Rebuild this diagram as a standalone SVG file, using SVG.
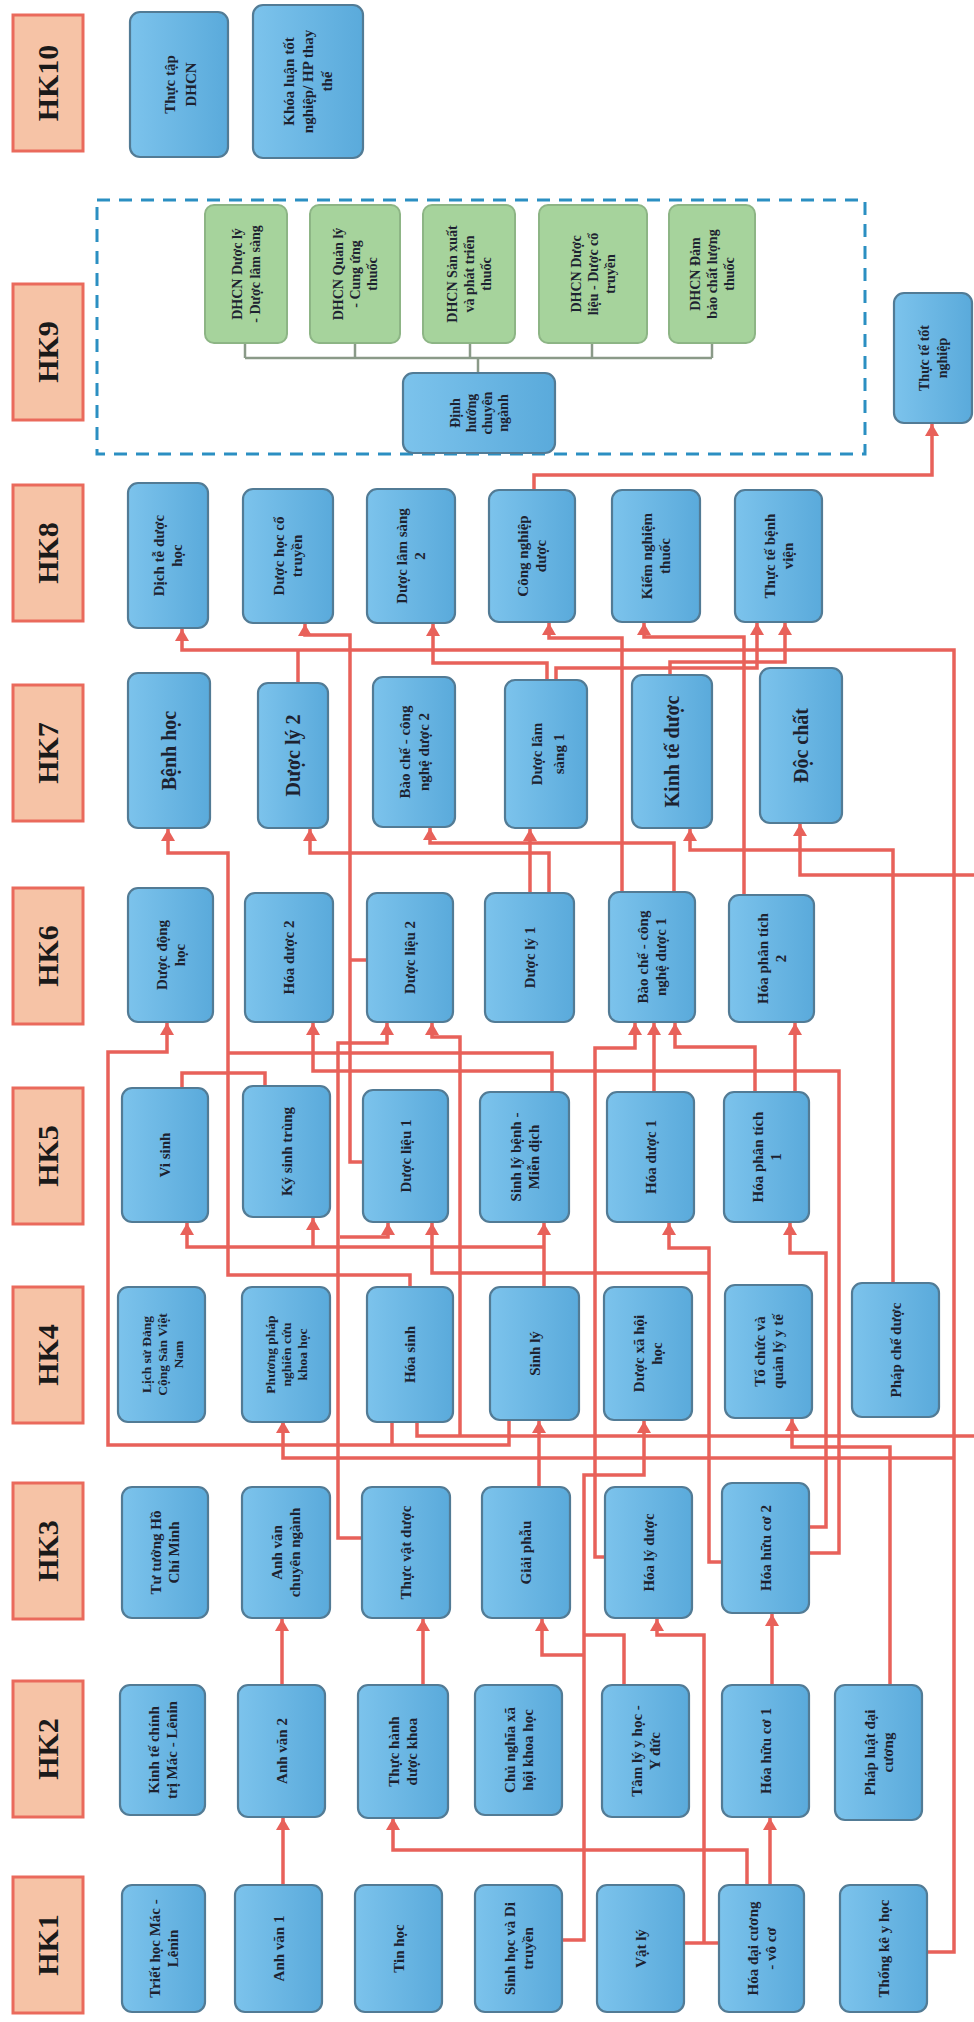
<svg xmlns="http://www.w3.org/2000/svg" width="974" height="2022" viewBox="0 0 974 2022">
<defs>
<linearGradient id="bl" x1="0" y1="0" x2="1" y2="0"><stop offset="0" stop-color="#7cc3ec"/><stop offset="1" stop-color="#5aaadb"/></linearGradient>
<marker id="ar" markerUnits="userSpaceOnUse" markerWidth="14" markerHeight="14" refX="12" refY="7" orient="auto"><path d="M0,0 L12,7 L0,14 z" fill="#e8615a"/></marker>
<style>
.n{fill:url(#bl);stroke:#527b95;stroke-width:2.2}
.gr{fill:#a6d39c;stroke:#8db585;stroke-width:2}
.hk{fill:#f6c3a6;stroke:#ea6a5c;stroke-width:3}
.hkt{font-family:"Liberation Serif",serif;font-weight:bold;font-size:30px;fill:#1a1a1a;text-anchor:middle}
.t{font-family:"Liberation Serif",serif;font-weight:bold;font-size:15px;fill:#1d2230;text-anchor:middle}
.s{font-size:14px}
.m{font-size:13.5px}
.b{font-size:20px}
.c path{fill:none;stroke:#e8615a;stroke-width:3.5}
.c path.a{marker-end:url(#ar)}
.tree path{fill:none;stroke:#8a9a88;stroke-width:2.5}
</style>
</defs>
<rect width="974" height="2022" fill="#ffffff"/>

<g id="semesters">
<g id="hk10"><rect class="hk" x="13" y="15" width="70" height="136"/><text class="hkt" transform="translate(48 83) rotate(-90)" y="10">HK10</text></g>
<g id="hk9"><rect class="hk" x="13" y="284" width="70" height="136"/><text class="hkt" transform="translate(48 352) rotate(-90)" y="10">HK9</text></g>
<g id="hk8"><rect class="hk" x="13" y="485" width="70" height="136"/><text class="hkt" transform="translate(48 553) rotate(-90)" y="10">HK8</text></g>
<g id="hk7"><rect class="hk" x="13" y="685" width="70" height="136"/><text class="hkt" transform="translate(48 753) rotate(-90)" y="10">HK7</text></g>
<g id="hk6"><rect class="hk" x="13" y="888" width="70" height="136"/><text class="hkt" transform="translate(48 956) rotate(-90)" y="10">HK6</text></g>
<g id="hk5"><rect class="hk" x="13" y="1088" width="70" height="136"/><text class="hkt" transform="translate(48 1156) rotate(-90)" y="10">HK5</text></g>
<g id="hk4"><rect class="hk" x="13" y="1287" width="70" height="136"/><text class="hkt" transform="translate(48 1355) rotate(-90)" y="10">HK4</text></g>
<g id="hk3"><rect class="hk" x="13" y="1483" width="70" height="136"/><text class="hkt" transform="translate(48 1551) rotate(-90)" y="10">HK3</text></g>
<g id="hk2"><rect class="hk" x="13" y="1681" width="70" height="136"/><text class="hkt" transform="translate(48 1749) rotate(-90)" y="10">HK2</text></g>
<g id="hk1"><rect class="hk" x="13" y="1877" width="70" height="136"/><text class="hkt" transform="translate(48 1945) rotate(-90)" y="10">HK1</text></g>
</g>

<rect id="hk9-box" x="97" y="200" width="768" height="254" fill="none" stroke="#2b8fc2" stroke-width="3" stroke-dasharray="13 9"/>

<g class="tree" id="tree">
<path d="M245,343 V358 M355,343 V358 M470,343 V358 M592,343 V358 M712,343 V358 M245,358 H712 M478,358 V373"/>
</g>

<g class="c" id="connectors">
<path class="a" d="M283,1885 V1818"/>
<path class="a" d="M770,1885 V1818"/>
<path class="a" d="M747,1885 V1850 H393 V1818"/>
<path class="a" d="M562,1940 H584 V1475 H644 V1421"/>
<path class="a" d="M584,1655 H542 V1619"/>
<path d="M624,1685 V1635 H584"/>
<path d="M684,1943 H719"/>
<path class="a" d="M704,1943 V1635 H657 V1619"/>
<path class="a" d="M927,1952 H954 V650 H182 V629"/>
<path class="a" d="M772,1685 V1614"/>
<path class="a" d="M282,1685 V1619"/>
<path class="a" d="M423,1685 V1619"/>
<path class="a" d="M539,1487 V1421"/>
<path class="a" d="M722,1562 H709 V1248 H669 V1223"/>
<path class="a" d="M709,1273 H432 V1223"/>
<path class="a" d="M809,1527 H826 V1253 H790 V1223"/>
<path class="a" d="M809,1553 H839 V1071 H313 V1023"/>
<path class="a" d="M605,1557 H595 V1048 H635 V1023"/>
<path class="a" d="M654,1092 V1023"/>
<path class="a" d="M755,1092 V1047 H675 V1023"/>
<path class="a" d="M795,1092 V1023"/>
<path class="a" d="M544,1287 V1223"/>
<path class="a" d="M544,1247 H187 V1223"/>
<path class="a" d="M313,1247 V1218"/>
<path class="a" d="M362,1538 H338 V1043 H387 V1023"/>
<path class="a" d="M340,1237 H388 V1223"/>
<path class="a" d="M363,1162 H350 V635 H305 V624"/>
<path d="M367,960 H350"/>
<path class="a" d="M460,1436 V1037 H432 V1023"/>
<path class="a" d="M509,1420 V1445 H108 V1052 H167 V1023"/>
<path d="M392,1422 V1445"/>
<path d="M417,1422 V1436 H974"/>
<path class="a" d="M954,1458 H283 V1421"/>
<path class="a" d="M890,1685 V1447 H792 V1419"/>
<path class="a" d="M893,1283 V850 H690 V829"/>
<path class="a" d="M410,1287 V1275 H228 V853 H168 V829"/>
<path d="M552,1092 V1053 H228"/>
<path d="M182,1088 V1073 H265 V1086"/>
<path class="a" d="M530,893 V829"/>
<path class="a" d="M549,893 V853 H310 V829"/>
<path class="a" d="M674,892 V843 H430 V828"/>
<path d="M298,683 V650"/>
<path class="a" d="M974,875 H800 V824"/>
<path class="a" d="M534,490 V475 H932 V424"/>
<path class="a" d="M744,895 V637 H644 V623"/>
<path class="a" d="M670,675 V662 H785 V623"/>
<path class="a" d="M556,680 V668 H757 V623"/>
<path class="a" d="M622,892 V638 H549 V623"/>
<path class="a" d="M547,680 V663 H433 V624"/>
</g>

<g id="n-thuc-tap"><rect class="n" x="130" y="12" width="98" height="145" rx="10"/><g transform="translate(179 84.5) rotate(-90)"><text class="t" font-size="18"><tspan x="0" y="-4">Thực tập</tspan><tspan x="0" y="17">DHCN</tspan></text></g></g>
<g id="n-khoa-luan"><rect class="n" x="253" y="5" width="110" height="153" rx="10"/><g transform="translate(308 81.5) rotate(-90)"><text class="t" font-size="16"><tspan x="0" y="-14">Khóa luận tốt</tspan><tspan x="0" y="5">nghiệp/ HP thay</tspan><tspan x="0" y="24">thế</tspan></text></g></g>

<g id="n-dhcn-dlls"><rect class="gr" x="205" y="205" width="82" height="138" rx="9"/><g transform="translate(246 274) rotate(-90)"><text class="t s"><tspan x="0" y="-4">DHCN Dược lý</tspan><tspan x="0" y="14">- Dược lâm sàng</tspan></text></g></g>
<g id="n-dhcn-qlcu"><rect class="gr" x="310" y="205" width="90" height="138" rx="9"/><g transform="translate(355 274) rotate(-90)"><text class="t s"><tspan x="0" y="-12">DHCN Quản lý</tspan><tspan x="0" y="5">- Cung ứng</tspan><tspan x="0" y="22">thuốc</tspan></text></g></g>
<g id="n-dhcn-sx"><rect class="gr" x="423" y="205" width="92" height="138" rx="9"/><g transform="translate(469 274) rotate(-90)"><text class="t s"><tspan x="0" y="-12">DHCN Sản xuất</tspan><tspan x="0" y="5">và phát triển</tspan><tspan x="0" y="22">thuốc</tspan></text></g></g>
<g id="n-dhcn-dl"><rect class="gr" x="539" y="205" width="108" height="138" rx="9"/><g transform="translate(593 274) rotate(-90)"><text class="t s"><tspan x="0" y="-12">DHCN Dược</tspan><tspan x="0" y="5">liệu - Dược cổ</tspan><tspan x="0" y="22">truyền</tspan></text></g></g>
<g id="n-dhcn-db"><rect class="gr" x="669" y="205" width="86" height="138" rx="9"/><g transform="translate(712 274) rotate(-90)"><text class="t s"><tspan x="0" y="-12">DHCN Đảm</tspan><tspan x="0" y="5">bảo chất lượng</tspan><tspan x="0" y="22">thuốc</tspan></text></g></g>
<g id="n-dinh-huong"><rect class="n" x="403" y="373" width="152" height="80" rx="10"/><g transform="translate(479 413) rotate(-90)"><text class="t s"><tspan x="0" y="-19">Định</tspan><tspan x="0" y="-3">hướng</tspan><tspan x="0" y="13">chuyên</tspan><tspan x="0" y="29">ngành</tspan></text></g></g>
<g id="n-thuc-te-tn"><rect class="n" x="894" y="293" width="78" height="130" rx="10"/><g transform="translate(933 358) rotate(-90)"><text class="t s"><tspan x="0" y="-4">Thực tế tốt</tspan><tspan x="0" y="14">nghiệp</tspan></text></g></g>

<g id="n-dich-te"><rect class="n" x="128" y="483" width="80" height="145" rx="10"/><g transform="translate(168 555.5) rotate(-90)"><text class="t"><tspan x="0" y="-4">Dịch tễ dược</tspan><tspan x="0" y="14">học</tspan></text></g></g>
<g id="n-dhct"><rect class="n" x="243" y="489" width="90" height="134" rx="10"/><g transform="translate(288 556) rotate(-90)"><text class="t"><tspan x="0" y="-4">Dược học cổ</tspan><tspan x="0" y="14">truyền</tspan></text></g></g>
<g id="n-dls2"><rect class="n" x="367" y="489" width="88" height="134" rx="10"/><g transform="translate(411 556) rotate(-90)"><text class="t"><tspan x="0" y="-4">Dược lâm sàng</tspan><tspan x="0" y="14">2</tspan></text></g></g>
<g id="n-cnd"><rect class="n" x="489" y="490" width="86" height="132" rx="10"/><g transform="translate(532 556) rotate(-90)"><text class="t"><tspan x="0" y="-4">Công nghiệp</tspan><tspan x="0" y="14">dược</tspan></text></g></g>
<g id="n-knt"><rect class="n" x="612" y="490" width="88" height="132" rx="10"/><g transform="translate(656 556) rotate(-90)"><text class="t"><tspan x="0" y="-4">Kiểm nghiệm</tspan><tspan x="0" y="14">thuốc</tspan></text></g></g>
<g id="n-ttbv"><rect class="n" x="735" y="490" width="87" height="132" rx="10"/><g transform="translate(778.5 556) rotate(-90)"><text class="t"><tspan x="0" y="-4">Thực tế bệnh</tspan><tspan x="0" y="14">viện</tspan></text></g></g>

<g id="n-benh-hoc"><rect class="n" x="128" y="673" width="82" height="155" rx="10"/><g transform="translate(169 750.5) rotate(-90)"><text class="t b" y="7">Bệnh học</text></g></g>
<g id="n-duoc-ly2"><rect class="n" x="258" y="683" width="70" height="145" rx="10"/><g transform="translate(293 755.5) rotate(-90)"><text class="t b" y="7">Dược lý 2</text></g></g>
<g id="n-bc2"><rect class="n" x="373" y="677" width="82" height="150" rx="10"/><g transform="translate(414 752) rotate(-90)"><text class="t" font-size="16"><tspan x="0" y="-4">Bào chế - công</tspan><tspan x="0" y="15">nghệ dược 2</tspan></text></g></g>
<g id="n-dls1"><rect class="n" x="505" y="680" width="82" height="148" rx="10"/><g transform="translate(546 754) rotate(-90)"><text class="t" font-size="19"><tspan x="0" y="-4">Dược lâm</tspan><tspan x="0" y="18">sàng 1</tspan></text></g></g>
<g id="n-ktd"><rect class="n" x="632" y="675" width="80" height="153" rx="10"/><g transform="translate(672 751.5) rotate(-90)"><text class="t b" y="7">Kinh tế dược</text></g></g>
<g id="n-doc-chat"><rect class="n" x="760" y="668" width="82" height="155" rx="10"/><g transform="translate(801 745.5) rotate(-90)"><text class="t b" y="7">Độc chất</text></g></g>

<g id="n-ddh"><rect class="n" x="128" y="888" width="85" height="134" rx="10"/><g transform="translate(170.5 955) rotate(-90)"><text class="t"><tspan x="0" y="-4">Dược động</tspan><tspan x="0" y="14">học</tspan></text></g></g>
<g id="n-hd2"><rect class="n" x="245" y="893" width="88" height="129" rx="10"/><g transform="translate(289 957.5) rotate(-90)"><text class="t" y="5">Hóa dược 2</text></g></g>
<g id="n-dl2"><rect class="n" x="367" y="893" width="86" height="129" rx="10"/><g transform="translate(410 957.5) rotate(-90)"><text class="t" y="5">Dược liệu 2</text></g></g>
<g id="n-dly1"><rect class="n" x="485" y="893" width="89" height="129" rx="10"/><g transform="translate(529.5 957.5) rotate(-90)"><text class="t" y="5">Dược lý 1</text></g></g>
<g id="n-bc1"><rect class="n" x="609" y="892" width="86" height="130" rx="10"/><g transform="translate(652 957) rotate(-90)"><text class="t"><tspan x="0" y="-4">Bào chế - công</tspan><tspan x="0" y="14">nghệ dược 1</tspan></text></g></g>
<g id="n-hpt2"><rect class="n" x="729" y="895" width="85" height="127" rx="10"/><g transform="translate(771.5 958.5) rotate(-90)"><text class="t"><tspan x="0" y="-4">Hóa phân tích</tspan><tspan x="0" y="14">2</tspan></text></g></g>

<g id="n-vi-sinh"><rect class="n" x="122" y="1088" width="86" height="134" rx="10"/><g transform="translate(165 1155) rotate(-90)"><text class="t" y="5">Vi sinh</text></g></g>
<g id="n-kst"><rect class="n" x="243" y="1086" width="87" height="131" rx="10"/><g transform="translate(286.5 1151.5) rotate(-90)"><text class="t" y="5">Ký sinh trùng</text></g></g>
<g id="n-dl1"><rect class="n" x="363" y="1090" width="85" height="132" rx="10"/><g transform="translate(405.5 1156) rotate(-90)"><text class="t" y="5">Dược liệu 1</text></g></g>
<g id="n-slb"><rect class="n" x="480" y="1092" width="89" height="130" rx="10"/><g transform="translate(524.5 1157) rotate(-90)"><text class="t"><tspan x="0" y="-4">Sinh lý bệnh -</tspan><tspan x="0" y="14">Miễn dịch</tspan></text></g></g>
<g id="n-hd1"><rect class="n" x="607" y="1092" width="87" height="130" rx="10"/><g transform="translate(650.5 1157) rotate(-90)"><text class="t" y="5">Hóa dược 1</text></g></g>
<g id="n-hpt1"><rect class="n" x="724" y="1092" width="85" height="130" rx="10"/><g transform="translate(766.5 1157) rotate(-90)"><text class="t"><tspan x="0" y="-4">Hóa phân tích</tspan><tspan x="0" y="14">1</tspan></text></g></g>

<g id="n-lsd"><rect class="n" x="118" y="1287" width="87" height="135" rx="10"/><g transform="translate(161.5 1354.5) rotate(-90)"><text class="t m"><tspan x="0" y="-11">Lịch sử Đảng</tspan><tspan x="0" y="5">Cộng Sản Việt</tspan><tspan x="0" y="21">Nam</tspan></text></g></g>
<g id="n-ppnc"><rect class="n" x="242" y="1287" width="88" height="135" rx="10"/><g transform="translate(286 1354.5) rotate(-90)"><text class="t m"><tspan x="0" y="-11">Phương pháp</tspan><tspan x="0" y="5">nghiên cứu</tspan><tspan x="0" y="21">khoa học</tspan></text></g></g>
<g id="n-hoa-sinh"><rect class="n" x="367" y="1287" width="86" height="135" rx="10"/><g transform="translate(410 1354.5) rotate(-90)"><text class="t" y="5">Hóa sinh</text></g></g>
<g id="n-sinh-ly"><rect class="n" x="490" y="1287" width="89" height="133" rx="10"/><g transform="translate(534.5 1353.5) rotate(-90)"><text class="t" y="5">Sinh lý</text></g></g>
<g id="n-dxh"><rect class="n" x="604" y="1287" width="88" height="133" rx="10"/><g transform="translate(648 1353.5) rotate(-90)"><text class="t"><tspan x="0" y="-4">Dược xã hội</tspan><tspan x="0" y="14">học</tspan></text></g></g>
<g id="n-tcql"><rect class="n" x="725" y="1285" width="87" height="133" rx="10"/><g transform="translate(768.5 1351.5) rotate(-90)"><text class="t"><tspan x="0" y="-4">Tổ chức và</tspan><tspan x="0" y="14">quản lý y tế</tspan></text></g></g>
<g id="n-pcd"><rect class="n" x="852" y="1283" width="87" height="134" rx="10"/><g transform="translate(895.5 1350) rotate(-90)"><text class="t" y="5">Pháp chế dược</text></g></g>

<g id="n-tthcm"><rect class="n" x="122" y="1487" width="86" height="131" rx="10"/><g transform="translate(165 1552.5) rotate(-90)"><text class="t"><tspan x="0" y="-4">Tư tưởng Hồ</tspan><tspan x="0" y="14">Chí Minh</tspan></text></g></g>
<g id="n-avcn"><rect class="n" x="242" y="1487" width="88" height="131" rx="10"/><g transform="translate(286 1552.5) rotate(-90)"><text class="t"><tspan x="0" y="-4">Anh văn</tspan><tspan x="0" y="14">chuyên ngành</tspan></text></g></g>
<g id="n-tvd"><rect class="n" x="362" y="1487" width="88" height="131" rx="10"/><g transform="translate(406 1552.5) rotate(-90)"><text class="t" y="5">Thực vật dược</text></g></g>
<g id="n-giai-phau"><rect class="n" x="482" y="1487" width="88" height="131" rx="10"/><g transform="translate(526 1552.5) rotate(-90)"><text class="t" y="5">Giải phẫu</text></g></g>
<g id="n-hld"><rect class="n" x="605" y="1487" width="87" height="131" rx="10"/><g transform="translate(648.5 1552.5) rotate(-90)"><text class="t" y="5">Hóa lý dược</text></g></g>
<g id="n-hhc2"><rect class="n" x="722" y="1483" width="87" height="130" rx="10"/><g transform="translate(765.5 1548) rotate(-90)"><text class="t" y="5">Hóa hữu cơ 2</text></g></g>

<g id="n-ktct"><rect class="n" x="120" y="1685" width="85" height="130" rx="10"/><g transform="translate(162.5 1750) rotate(-90)"><text class="t"><tspan x="0" y="-4">Kinh tế chính</tspan><tspan x="0" y="14">trị Mác - Lênin</tspan></text></g></g>
<g id="n-av2"><rect class="n" x="238" y="1685" width="87" height="132" rx="10"/><g transform="translate(281.5 1751) rotate(-90)"><text class="t" y="5">Anh văn 2</text></g></g>
<g id="n-thdk"><rect class="n" x="358" y="1685" width="90" height="133" rx="10"/><g transform="translate(403 1751.5) rotate(-90)"><text class="t"><tspan x="0" y="-4">Thực hành</tspan><tspan x="0" y="14">dược khoa</tspan></text></g></g>
<g id="n-cnxh"><rect class="n" x="475" y="1685" width="87" height="130" rx="10"/><g transform="translate(518.5 1750) rotate(-90)"><text class="t"><tspan x="0" y="-4">Chủ nghĩa xã</tspan><tspan x="0" y="14">hội khoa học</tspan></text></g></g>
<g id="n-tlyh"><rect class="n" x="602" y="1685" width="87" height="132" rx="10"/><g transform="translate(645.5 1751) rotate(-90)"><text class="t"><tspan x="0" y="-4">Tâm lý y học -</tspan><tspan x="0" y="14">Y đức</tspan></text></g></g>
<g id="n-hhc1"><rect class="n" x="722" y="1685" width="87" height="132" rx="10"/><g transform="translate(765.5 1751) rotate(-90)"><text class="t" y="5">Hóa hữu cơ 1</text></g></g>
<g id="n-pldc"><rect class="n" x="835" y="1685" width="87" height="135" rx="10"/><g transform="translate(878.5 1752.5) rotate(-90)"><text class="t"><tspan x="0" y="-4">Pháp luật đại</tspan><tspan x="0" y="14">cương</tspan></text></g></g>

<g id="n-thml"><rect class="n" x="122" y="1885" width="83" height="127" rx="10"/><g transform="translate(163.5 1948.5) rotate(-90)"><text class="t"><tspan x="0" y="-4">Triết học Mác -</tspan><tspan x="0" y="14">Lênin</tspan></text></g></g>
<g id="n-av1"><rect class="n" x="235" y="1885" width="87" height="127" rx="10"/><g transform="translate(278.5 1948.5) rotate(-90)"><text class="t" y="5">Anh văn 1</text></g></g>
<g id="n-tin-hoc"><rect class="n" x="355" y="1885" width="87" height="127" rx="10"/><g transform="translate(398.5 1948.5) rotate(-90)"><text class="t" y="5">Tin học</text></g></g>
<g id="n-shdt"><rect class="n" x="475" y="1885" width="87" height="127" rx="10"/><g transform="translate(518.5 1948.5) rotate(-90)"><text class="t"><tspan x="0" y="-4">Sinh học và Di</tspan><tspan x="0" y="14">truyền</tspan></text></g></g>
<g id="n-vat-ly"><rect class="n" x="597" y="1885" width="87" height="127" rx="10"/><g transform="translate(640.5 1948.5) rotate(-90)"><text class="t" y="5">Vật lý</text></g></g>
<g id="n-hdc"><rect class="n" x="719" y="1885" width="85" height="127" rx="10"/><g transform="translate(761.5 1948.5) rotate(-90)"><text class="t"><tspan x="0" y="-4">Hóa đại cương</tspan><tspan x="0" y="14">- vô cơ</tspan></text></g></g>
<g id="n-tkyh"><rect class="n" x="840" y="1885" width="87" height="127" rx="10"/><g transform="translate(883.5 1948.5) rotate(-90)"><text class="t" y="5">Thống kê y học</text></g></g>
</svg>
